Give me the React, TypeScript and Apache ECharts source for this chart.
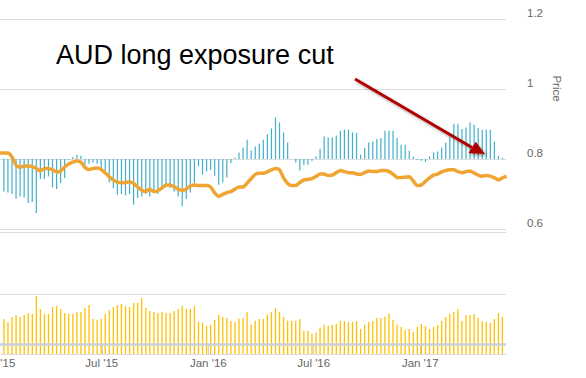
import React, { useEffect, useRef } from "react";
import * as echarts from "echarts";

// Weekly observations starting Tue 13 Jan 2015 (index 0)
const firstWeek = { y: 2015, m: 0, d: 13 };

// Net AUD position bars (upper pane, zero at the 0.8 price line)
const netPosition = [
  -32.4, -33.4, -34.7, -39.7, -37.4, -38.4, -44, -43, -54, -20,
  -20, -17.4, -28.4, -30, -24, -19, -0.7, 2, 4.3, 3.3,
  -6.4, -4.7, -3.4, -4.7, -9, -14.7, -23.4, -29, -35.7, -35,
  -36.4, -35, -45.7, -39, -37.4, -34.7, -37.4, -34, -35, -28,
  -28, -29, -32.4, -37.4, -47.4, -40, -33.4, -24, -7.4, -15.7,
  -12.4, -10.7, -16.7, -25.7, -23.4, -18.4, -4, 1.3, 6.6, 11.6,
  19.3, 8.6, 12.6, 15.3, 19.3, 24.6, 30.6, 41.6, 36.6, 26.6,
  16.6, 0, -3.4, -11.4, -5.7, -5.7, -1.7, 2.6, 10.3, 22.6,
  21.6, 21.6, 23.6, 28.3, 29.3, 29.3, 26.6, 26, 4.3, 11,
  16.6, 17.6, 20, 21, 28.3, 28.3, 28.3, 21, 14.3, 14.3,
  8.3, 2.6, -1, -1.7, -3, 2.6, 6.6, 7.6, 11.6, 16.6,
  22.6, 35.3, 35.3, 30, 31.6, 36.6, 34.3, 31, 29.3, 29.3,
  29.3, 17.6, 3.3, 1,
];

// AUD price line, weeks -1 .. 124
const audPrice = [
  0.817,
  0.817, 0.817, 0.806, 0.783, 0.776, 0.780, 0.780, 0.779, 0.773, 0.766,
  0.773, 0.773, 0.769, 0.763, 0.766, 0.777, 0.786, 0.791, 0.794, 0.791,
  0.776, 0.770, 0.773, 0.774, 0.770, 0.760, 0.749, 0.740, 0.734, 0.732,
  0.733, 0.735, 0.730, 0.720, 0.711, 0.707, 0.714, 0.707, 0.710, 0.717,
  0.726, 0.726, 0.721, 0.714, 0.711, 0.714, 0.723, 0.726, 0.724, 0.724,
  0.724, 0.720, 0.703, 0.693, 0.699, 0.704, 0.707, 0.714, 0.720, 0.720,
  0.731, 0.744, 0.756, 0.759, 0.759, 0.763, 0.769, 0.773, 0.769, 0.746,
  0.730, 0.724, 0.724, 0.733, 0.740, 0.742, 0.744, 0.750, 0.757, 0.757,
  0.753, 0.754, 0.761, 0.767, 0.764, 0.761, 0.761, 0.757, 0.756, 0.761,
  0.766, 0.764, 0.764, 0.767, 0.767, 0.764, 0.757, 0.747, 0.747, 0.748,
  0.749, 0.737, 0.724, 0.726, 0.736, 0.746, 0.754, 0.757, 0.763, 0.767,
  0.769, 0.769, 0.764, 0.761, 0.764, 0.766, 0.760, 0.754, 0.751, 0.753,
  0.751, 0.746, 0.740, 0.746,
  0.751,
];

// Lower pane bars
const lowerBars = [
  35, 32, 37, 39, 37, 39, 41, 40, 58, 45,
  40, 40, 47, 48, 45, 41, 40, 40, 42, 42,
  46, 49, 35, 34, 35, 40, 44, 47, 49, 50,
  48, 47, 51, 51, 56, 46, 43, 42, 41, 42,
  41, 41, 43, 45, 48, 45, 45, 48, 32, 31.3,
  28, 29.3, 34.3, 39.3, 37, 36, 33, 32, 35.3, 36,
  42, 29.3, 33.3, 35, 35, 39.3, 42, 46, 42.3, 37,
  33.3, 33.3, 33.3, 35, 23, 23, 20.3, 21.3, 26.3, 29.3,
  28.3, 29.3, 30.3, 33.3, 33, 32, 32, 33, 25, 29.3,
  32, 33, 36, 36, 37.3, 40.3, 34.3, 29.3, 27, 24,
  25, 22, 27, 30, 28, 25, 27, 29, 33, 37,
  40, 42, 45, 33, 39, 39, 40, 36, 33, 32,
  31, 35, 41, 37,
];

const priceTicks = { min: 0.6, max: 1.2, interval: 0.2 };
const titleText = "AUD long exposure cut";
const months = ["Jan", "Feb", "Mar", "Apr", "May", "Jun", "Jul", "Aug", "Sep", "Oct", "Nov", "Dec"];

const weekDate = (i: number) =>
  new Date(firstWeek.y, firstWeek.m, firstWeek.d + 7 * i).getTime();

export default function App() {
  const ref = useRef<HTMLDivElement>(null);
  useEffect(() => {
    if (!ref.current) return;
    const chart = echarts.init(ref.current, null, { renderer: "svg" });
    const xMin = new Date(2014, 11, 29, 17).getTime();
    const xMax = new Date(2017, 4, 28).getTime();
    const half = 190 * 86400000;
    const font = "Liberation Sans";
    const grid = "#DCDCDC";

    const barData = netPosition.map((v, i) => [weekDate(i), v]);
    const lineData = audPrice.map((v, i) => [weekDate(i - 1), v]);
    const lowData = lowerBars.map((v, i) => [weekDate(i), v]);

    chart.setOption({
      animation: false,
      grid: [
        { left: -5, right: 80, top: 19, bottom: 149, outerBoundsMode: "none", containLabel: false },
        { left: -5, right: 80, top: 294, bottom: 24, outerBoundsMode: "none", containLabel: false },
      ],
      xAxis: [
        {
          type: "time", gridIndex: 0, min: xMin, max: xMax,
          axisLine: { show: true, onZero: false, lineStyle: { color: grid } },
          offset: 3,
          axisTick: { show: false }, axisLabel: { show: false }, splitLine: { show: false },
        },
        {
          type: "time", gridIndex: 1, min: xMin, max: xMax,
          minInterval: half, maxInterval: half,
          axisLine: { show: true, onZero: false, lineStyle: { color: grid } },
          axisTick: { show: true, inside: true, length: 10, lineStyle: { color: "#C8D0DA" } },
          axisLabel: {
            show: true, color: "#666666", fontSize: 11.5, fontFamily: font, margin: 3,
            formatter: (v: number) => {
              const d = new Date(v);
              return months[d.getMonth()] + " '" + String(d.getFullYear()).slice(2);
            },
          },
          splitLine: { show: false },
        },
      ],
      yAxis: [
        {
          type: "value", gridIndex: 0, position: "right",
          min: priceTicks.min, max: priceTicks.max, interval: priceTicks.interval,
          axisLine: { show: false }, axisTick: { show: false },
          splitLine: { show: true, lineStyle: { color: grid } },
          axisLabel: {
            color: "#666666", fontSize: 11.5, fontFamily: font, margin: 21,
            align: "left", verticalAlign: "bottom",
          },
        },
        {
          type: "value", gridIndex: 0, position: "left", min: -70, max: 140,
          show: false, splitLine: { show: false },
        },
        {
          type: "value", gridIndex: 1, position: "right", min: 0, max: 60, interval: 60,
          axisLine: { show: false }, axisTick: { show: false }, axisLabel: { show: false },
          splitLine: { show: true, lineStyle: { color: grid } },
        },
      ],
      series: [
        {
          type: "bar", xAxisIndex: 0, yAxisIndex: 1, data: barData,
          barWidth: 1.2, itemStyle: { color: "#41B0C8" }, z: 2,
        },
        {
          type: "line", xAxisIndex: 0, yAxisIndex: 0, data: lineData,
          showSymbol: false, smooth: 0.2, clip: true,
          lineStyle: { color: "#F0A432", width: 3.5 }, z: 3,
        },
        {
          type: "bar", xAxisIndex: 1, yAxisIndex: 2, data: lowData,
          barWidth: 1.3, itemStyle: { color: "#FFC000" }, z: 2,
          markLine: {
            silent: true, symbol: "none", label: { show: false },
            lineStyle: { color: "#C8D0DA", width: 2.5, type: "solid" },
            data: [{ yAxis: 10 }],
          },
        },
      ],
      graphic: [
        {
          type: "text", left: 56, top: 41, z: 10,
          style: { text: titleText, font: `27px "${font}"`, fill: "#000000" },
        },
        {
          type: "text", x: 557, y: 88.5, rotation: -Math.PI / 2, z: 10,
          style: { text: "Price", font: `11.5px "${font}"`, fill: "#666666", align: "center", verticalAlign: "middle" },
        },
        {
          type: "line", z: 10,
          shape: { x1: 355, y1: 79, x2: 472, y2: 147.5 },
          style: { stroke: "#B00000", lineWidth: 3, shadowBlur: 3, shadowOffsetX: 2, shadowOffsetY: 2, shadowColor: "rgba(0,0,0,0.35)" },
        },
        {
          type: "polygon", z: 10,
          shape: { points: [[485, 154], [475.7, 141.7], [468.3, 153.3]] },
          style: { fill: "#B00000", shadowBlur: 3, shadowOffsetX: 2, shadowOffsetY: 2, shadowColor: "rgba(0,0,0,0.35)" },
        },
      ],
    });
    return () => chart.dispose();
  }, []);
  return (
    <div
      ref={ref}
      style={{ position: "fixed", left: 0, top: 0, width: 586, height: 378, background: "#ffffff" }}
    />
  );
}
